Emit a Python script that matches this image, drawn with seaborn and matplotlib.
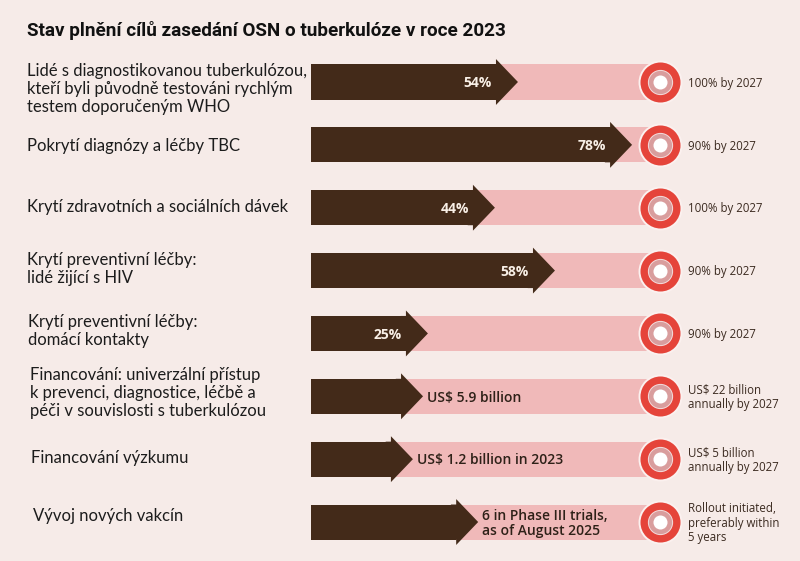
import matplotlib.pyplot as plt
import seaborn as sns
import pandas as pd

# texty vlevo (kategorie)
labels = [
    "Lidé s diagnostikovanou tuberkulózou,\nkteří byli původně testováni rychlým\ntestem doporučeným WHO",
    "Pokrytí diagnózy a léčby TBC",
    "Krytí zdravotních a sociálních dávek",
    "Krytí preventivní léčby:\nlidé žijící s HIV",
    "Krytí preventivní léčby:\ndomácí kontakty",
    "Financování: univerzální přístup\nk prevenci, diagnostice, léčbě a\npéči v souvislosti s tuberkulózou",
    "Financování výzkumu",
    "Vývoj nových vakcín",
]
# délka šipky v % dráhy k cíli
progress = [59.3, 92.0, 52.7, 69.9, 33.5, 32.1, 29.2, 47.9]
values = ["54%", "78%", "44%", "58%", "25%",
          "US$ 5.9 billion", "US$ 1.2 billion in 2023",
          "6 in Phase III trials,\nas of August 2025"]
targets = ["100% by 2027", "90% by 2027", "100% by 2027", "90% by 2027", "90% by 2027",
           "US$ 22 billion\nannually by 2027", "US$ 5 billion\nannually by 2027",
           "Rollout initiated,\npreferably within\n5 years"]
title = "Stav plnění cílů zasedání OSN o tuberkulóze v roce 2023"

BG = "#f6ebe8"
DARK = "#432a19"
PINK = "#f0b9b9"
RED = "#e5443a"

sns.set_theme(style="white")
plt.rcParams["font.family"] = ["Lato", "DejaVu Sans"]

df = pd.DataFrame({"label": labels, "progress": progress, "track": [100] * len(labels)})
head = 6.3  # délka hrotu v jednotkách osy x
df["shaft"] = df["progress"] - head

fig = plt.figure(figsize=(8, 5.61), dpi=100, facecolor=BG)
ax = fig.add_axes([0, 0, 1, 1])
ax.set_facecolor(BG)

bw = 0.557
sns.barplot(data=df, x="track", y="label", color=PINK, saturation=1, width=bw,
            linewidth=0, ax=ax)
sns.barplot(data=df, x="shaft", y="label", color=DARK, saturation=1, width=bw,
            linewidth=0, ax=ax)

# pixel mapping: x=0 -> 311 px, x=100 -> 660 px; řádek i -> 82 + 62.86 i px
px = 3.49
ax.set_xlim(-311 / px, (800 - 311) / px)
ax.set_ylim((561 - 82) / 62.86, -82 / 62.86)
ax.axis("off")

for i, row in df.iterrows():
    p = row["progress"]
    hs = bw / 2
    # hrot šipky, lehce překrytý s tělem, aby nevznikl šev
    ax.fill([p - head - 1.5, p - head, p - head, p, p - head, p - head, p - head - 1.5],
            [i - hs, i - hs, i - 0.365, i, i + 0.365, i + hs, i + hs],
            color=DARK, lw=0, zorder=2.5)
    # cílový terč
    ax.scatter([100], [i], s=1000, color="#fbf1ef", zorder=2.8, lw=0)
    ax.scatter([100], [i], s=830, color=RED, zorder=3, lw=0)
    ax.scatter([100], [i], s=330, color="#f3dcdc", zorder=4, lw=0)
    ax.scatter([100], [i], s=280, color="#d99d9d", zorder=5, lw=0)
    ax.scatter([100], [i], s=102, color="white", zorder=6, lw=0)

    v = values[i]
    if v.endswith("%"):
        ax.text(p - 7.5, i + 0.02, v, ha="right", va="center", color="#f8efe6",
                fontsize=10, fontweight="bold", family=["Open Sans", "DejaVu Sans"],
                zorder=7)
    else:
        ax.text(p + 1.2, i + 0.02, v, ha="left", va="center", color="#2e2118",
                fontsize=10, fontweight="semibold", linespacing=1.05,
                family=["Open Sans", "DejaVu Sans"], zorder=7)

    ax.text(108, i + 0.02, targets[i], ha="left", va="center", color="#3b2a20",
            fontsize=8.3, linespacing=1.15, family=["Open Sans", "DejaVu Sans"])

# levé popisky
label_y = [89, 146, 207, 269, 331, 393, 458, 516]
label_x = [27, 27, 27, 27, 28, 30, 31, 33]
for lab, ly, lx in zip(labels, label_y, label_x):
    fig.text(lx / 800, 1 - ly / 561, lab, ha="left", va="center", fontsize=12,
             color="#1c1c1c", linespacing=1.12)

fig.text(27 / 800, 1 - 30 / 561, title, ha="left", va="center", fontsize=13.6,
         fontweight="bold", color="#111111", family=["Roboto", "DejaVu Sans"])

fig.savefig("out.png", dpi=100, facecolor=BG)
